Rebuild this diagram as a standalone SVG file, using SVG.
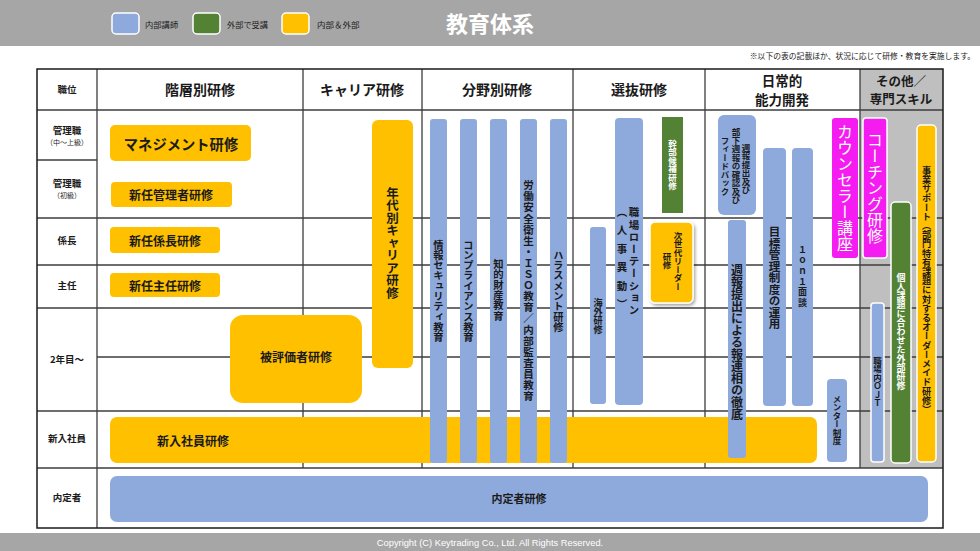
<svg xmlns="http://www.w3.org/2000/svg" width="980" height="551" viewBox="0 0 980 551">
<style>
text{font-family:"Noto Sans CJK JP","Noto Sans CJK SC",sans-serif;fill:#1a1a1a;}
.h{text-anchor:middle;dominant-baseline:central;}
.v{writing-mode:vertical-rl;text-anchor:middle;}
.b{font-weight:bold;}
.w{fill:#ffffff;}
.blue{fill:#8EA9DB;}
.yel{fill:#FFC000;}
.grn{fill:#548235;}
.mag{fill:#F51CF2;}
.ol{stroke:#ffffff;stroke-width:1.5;}
.grid line{stroke:#3c3c3c;stroke-width:1.3;}
</style>
<defs>
<filter id="sh" x="-20%" y="-20%" width="150%" height="150%"><feDropShadow dx="1.5" dy="2" stdDeviation="1.5" flood-color="#000" flood-opacity="0.35"/></filter>
</defs>
<rect x="0" y="0" width="980" height="46" fill="#A6A6A6"/>
<g id="legend">
<rect x="112" y="13" width="27" height="21" rx="4" class="blue ol"/>
<text x="145" y="24" font-size="8.3" style="dominant-baseline:central">内部講師</text>
<rect x="193" y="13" width="27" height="21" rx="4" class="grn ol"/>
<text x="227" y="24" font-size="8.2" style="dominant-baseline:central">外部で受講</text>
<rect x="282" y="13" width="27" height="21" rx="4" class="yel ol"/>
<text x="317" y="24" font-size="8.5" style="dominant-baseline:central">内部＆外部</text>
</g>
<text id="title" x="490" y="22" font-size="22" class="h b w">教育体系</text>
<text x="975" y="55" font-size="7.8" fill="#333" style="text-anchor:end;dominant-baseline:central">※以下の表の記載ほか、状況に応じて研修・教育を実施します。</text>

<rect x="860" y="69" width="83" height="399" fill="#BFBFBF"/>
<g class="grid" id="table">
<line x1="37" y1="110" x2="943" y2="110"/>
<line x1="37" y1="160" x2="97" y2="160"/>
<line x1="37" y1="218" x2="943" y2="218"/>
<line x1="37" y1="265" x2="943" y2="265"/>
<line x1="37" y1="308" x2="943" y2="308"/>
<line x1="97" y1="357" x2="943" y2="357"/>
<line x1="37" y1="411" x2="943" y2="411"/>
<line x1="37" y1="468" x2="943" y2="468"/>
<line x1="97" y1="69" x2="97" y2="528"/>
<line x1="303" y1="69" x2="303" y2="468"/>
<line x1="422" y1="69" x2="422" y2="468"/>
<line x1="573" y1="69" x2="573" y2="468"/>
<line x1="705" y1="69" x2="705" y2="468"/>
<line x1="860" y1="69" x2="860" y2="468"/>
<rect x="37" y="69" width="906" height="459" fill="none" stroke="#1a1a1a" stroke-width="1.5"/>
</g>
<g id="headers">
<text x="67" y="89" font-size="9.5" class="h b">職位</text>
<text x="200" y="89" font-size="14" class="h b">階層別研修</text>
<text x="362" y="89" font-size="14" class="h b">キャリア研修</text>
<text x="497" y="89" font-size="14" class="h b">分野別研修</text>
<text x="639" y="89" font-size="14" class="h b">選抜研修</text>
<text x="782" y="80" font-size="13.5" class="h b">日常的</text>
<text x="782" y="99" font-size="13.5" class="h b">能力開発</text>
<text x="901" y="80" font-size="12.5" class="h b">その他／</text>
<text x="901" y="98" font-size="12.5" class="h b">専門スキル</text>
</g>
<g id="rows">
<text x="67" y="130" font-size="9.5" class="h b">管理職</text>
<text x="67" y="142" font-size="7" class="h">（中～上級）</text>
<text x="67" y="183" font-size="9.5" class="h b">管理職</text>
<text x="67" y="195" font-size="7" class="h">（初級）</text>
<text x="67" y="240" font-size="9.5" class="h b">係長</text>
<text x="67" y="285" font-size="9.5" class="h b">主任</text>
<text x="67" y="359" font-size="9.5" class="h b">2年目～</text>
<text x="67" y="438" font-size="9.5" class="h b">新入社員</text>
<text x="67" y="497" font-size="9.5" class="h b">内定者</text>
</g>

<g id="n-management"><rect x="110" y="125" width="141" height="36" rx="5" class="yel"/><text x="181" y="143" font-size="14.3" class="h b">マネジメント研修</text></g>
<g id="n-shinnin-kanri"><rect x="111" y="182" width="121" height="25" rx="4" class="yel"/><text x="171" y="194.5" font-size="12" class="h b">新任管理者研修</text></g>
<g id="n-kakaricho"><rect x="110" y="227" width="110" height="26" rx="4" class="yel"/><text x="165" y="240" font-size="12" class="h b">新任係長研修</text></g>
<g id="n-shunin"><rect x="110" y="273" width="110" height="24" rx="4" class="yel"/><text x="165" y="285" font-size="12" class="h b">新任主任研修</text></g>
<g id="n-hihyoka"><rect x="230" y="315" width="132" height="88" rx="13" class="yel"/><text x="296" y="356" font-size="12" class="h b">被評価者研修</text></g>
<g id="n-shinnyu"><rect x="110" y="417" width="707" height="46" rx="7" class="yel"/><text x="193" y="440" font-size="12" class="h b">新入社員研修</text></g>
<g id="n-naitei"><rect x="110" y="476" width="818" height="46" rx="7" class="blue"/><text x="519" y="498" font-size="11" class="h b">内定者研修</text></g>
<g id="n-nendai"><rect x="372" y="120" width="41" height="248" rx="6" class="yel"/><text x="392.5" y="243" font-size="12.5" class="v b">年代別キャリア研修</text></g>

<g id="n-joho"><rect x="430" y="119" width="17" height="344" rx="3" class="blue"/><text x="438.5" y="291" font-size="10.3" class="v b">情報セキュリティ教育</text></g>
<g id="n-compliance"><rect x="460" y="119" width="17" height="344" rx="3" class="blue"/><text x="468.5" y="291" font-size="10.3" class="v b">コンプライアンス教育</text></g>
<g id="n-chiteki"><rect x="490" y="119" width="17" height="344" rx="3" class="blue"/><text x="498.5" y="290" font-size="10.3" class="v b">知的財産教育</text></g>
<g id="n-rodo"><rect x="520" y="119" width="17" height="344" rx="3" class="blue"/><text x="528.5" y="291" font-size="10.5" class="v b" letter-spacing="0.6">労働安全衛生・ＩＳＯ教育／内部監査員教育</text></g>
<g id="n-harassment"><rect x="550" y="119" width="17" height="344" rx="3" class="blue"/><text x="558.5" y="291" font-size="10.3" class="v b">ハラスメント研修</text></g>

<g id="n-kaigai"><rect x="590" y="227" width="16" height="177" rx="3" class="blue"/><text x="598" y="316" font-size="9.2" class="v b">海外研修</text></g>
<g id="n-rotation"><rect x="615" y="118" width="28" height="287" rx="4" class="blue"/><text x="634" y="262" font-size="10.5" class="v b" letter-spacing="1.7">職場ローテーション</text><text x="622" y="262" font-size="10.5" class="v b" letter-spacing="8">（人事異動）</text></g>
<g id="n-kanbu"><rect x="662" y="117" width="21" height="96" class="grn"/><text x="672.5" y="165" font-size="8.5" class="v b w">幹部候補研修</text></g>
<g id="n-jisedai"><rect x="650" y="222" width="43" height="81" rx="5" class="yel" stroke="#ffffff" stroke-width="1.5" filter="url(#sh)"/><text x="678" y="261" font-size="8.5" class="v b">次世代リーダー</text><text x="667" y="261" font-size="8.5" class="v b">研修</text></g>

<g id="n-shuho-fb"><rect x="718" y="115" width="38" height="100" rx="6" class="blue"/><text x="746" y="169" font-size="8.5" class="v b">週報提出及び</text><text x="736" y="166" font-size="8.5" class="v b">部下週報の確認及び</text><text x="725" y="166" font-size="8.5" class="v b">フィードバック</text></g>
<g id="n-shuho-horenso"><rect x="728" y="220" width="18" height="238" rx="3" class="blue"/><text x="737" y="342" font-size="12" class="v b">週報提出による報連相の徹底</text></g>
<g id="n-mokuhyo"><rect x="763" y="148" width="23" height="258" rx="4" class="blue"/><text x="774.5" y="278" font-size="11.5" class="v b">目標管理制度の運用</text></g>
<g id="n-1on1"><rect x="792" y="148" width="21" height="258" rx="4" class="blue"/><text x="802.5" y="277" font-size="9" class="v b" letter-spacing="1.5">１ｏｎ１面談</text></g>
<g id="n-counselor"><rect x="832" y="118" width="26" height="140" rx="3" class="mag"/><text x="845" y="188" font-size="16" class="v w">カウンセラー講座</text></g>
<g id="n-mentor"><rect x="827" y="379" width="20" height="83" rx="4" class="blue"/><text x="837" y="420" font-size="8.5" class="v b">メンター制度</text></g>

<g id="n-coaching"><rect x="863" y="118" width="24" height="140" rx="3" class="mag ol"/><text x="875" y="188" font-size="16" class="v w">コーチング研修</text></g>
<g id="n-ojt"><rect x="871" y="303" width="13" height="159" rx="3" class="blue ol"/><text x="877.5" y="382" font-size="8.5" class="v b">職場内ＯＪＴ</text></g>
<g id="n-kojin"><rect x="891" y="202" width="20" height="261" rx="4" class="grn ol"/><text x="901" y="332" font-size="9" class="v b w">個人課題に合わせた外部研修</text></g>
<g id="n-jigyo"><rect x="917" y="125" width="19" height="337" rx="4" class="yel ol"/><text x="926.5" y="290" font-size="9.2" class="v b">事業サポート（部門特有課題に対するオーダーメイド研修）</text></g>

<rect x="0" y="533" width="980" height="18" fill="#A6A6A6"/>
<text x="490" y="543" font-size="9.3" class="h w" style="font-family:'Liberation Sans',sans-serif">Copyright (C) Keytrading Co., Ltd. All Rights Reserved.</text>
</svg>
